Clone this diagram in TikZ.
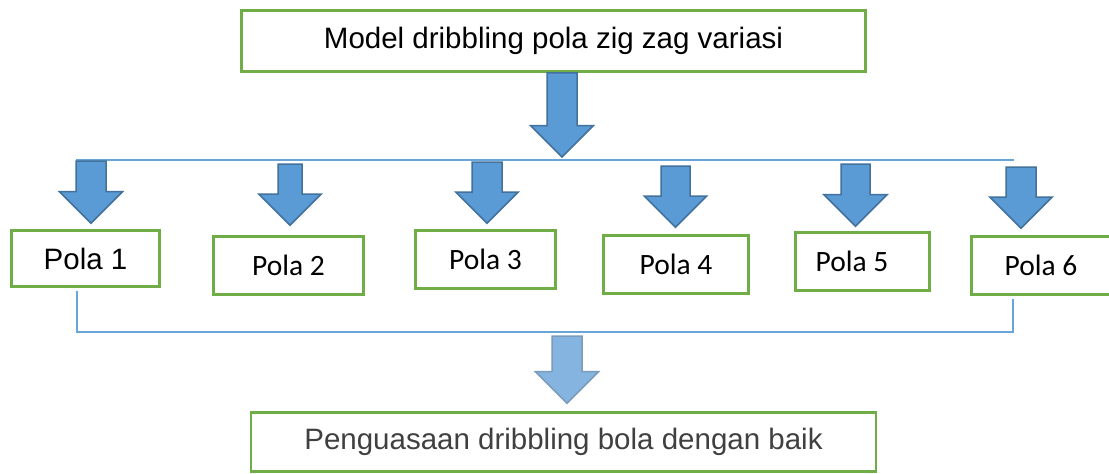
\documentclass[tikz,border=0pt]{standalone}
\usepackage{fontspec}
\setmainfont{Liberation Sans}
\newfontfamily\calibri{Carlito}
\usepackage{tikz}
\usetikzlibrary{calc}

\definecolor{boxgreen}{HTML}{70AD47}
\definecolor{arrowfill}{HTML}{5B9BD5}
\definecolor{arrowedge}{HTML}{41719C}
\definecolor{linkblue}{HTML}{6AA5DA}
\definecolor{softgray}{HTML}{404040}

\tikzset{
  box/.style={draw=boxgreen, line width=2.6pt, fill=white, inner sep=0pt},
  barrow/.style={fill=arrowfill, draw=arrowedge, line width=1.5pt, line join=miter},
  link/.style={draw=linkblue, line width=1.4pt},
  big/.style={font=\fontsize{29.5}{35}\selectfont},
  pola/.style={font=\calibri\fontsize{29.5}{35}\selectfont}
}

% block arrow: options, x, from, to, half shaft, half head
\newcommand{\blockarrow}[6][]{%
  \draw[barrow,#1] let \p1=(#3), \p2=(#4) in
    (#2pt-#5pt,\y1) -- (#2pt+#5pt,\y1) -- (#2pt+#5pt,\y2+#6pt) -- (#2pt+#6pt,\y2+#6pt)
    -- (#2pt,\y2) -- (#2pt-#6pt,\y2+#6pt) -- (#2pt-#5pt,\y2+#6pt) -- cycle;}

\begin{document}
\begin{tikzpicture}[x=1pt,y=-1pt]
\useasboundingbox[fill=white] (0,0) rectangle (1109,474);

% boxes
\node[box, big, minimum width=624pt, minimum height=61pt] (top) at (553.5,41) {\raisebox{3pt}{Model dribbling pola zig zag variasi}};
\node[box, big, minimum width=148pt, minimum height=56pt] (p1) at (85.5,258.5) {Pola 1};
\node[box, pola, minimum width=150pt, minimum height=58pt] (p2) at (288.5,265.5) {Pola 2};
\node[box, pola, minimum width=140pt, minimum height=58pt] (p3) at (485.5,259.5) {Pola 3};
\node[box, pola, minimum width=145pt, minimum height=58pt] (p4) at (676,264.5) {Pola 4};
\node[box, pola, minimum width=134pt, minimum height=58pt] (p5) at (862.5,261.5) {Pola 5\kern21pt};
\node[box, pola, minimum width=139pt, minimum height=58pt] (p6) at (1041,265.5) {Pola 6};
\node[box, big, text=softgray, minimum width=625pt, minimum height=59pt] (bot) at (563.5,442) {Penguasaan dribbling bola dengan baik};

% connecting lines
\coordinate (l1) at (76,160);
\coordinate (l2) at (1014,160);
\coordinate (m1) at (77,332);
\coordinate (m2) at (1013,332);
\draw[link] (l1) -- (l2);
\draw[link] ([yshift=-3pt]p1.south -| m1) -- (m1) -- (m2) -- ([yshift=-3pt]p6.south -| m2);

% arrows
\blockarrow{562}{top.south}{[yshift=3pt]l1}{15}{31.5}
\blockarrow{91}{[yshift=-1pt]l1}{[yshift=6pt]p1.north}{15}{31.5}
\blockarrow{290}{[yshift=-4pt]l1}{[yshift=10pt]p2.north}{12}{31}
\blockarrow{487}{[yshift=-2pt]l1}{[yshift=6pt]p3.north}{15}{31}
\blockarrow{675.5}{[yshift=-6pt]l1}{[yshift=7pt]p4.north}{14.5}{31}
\blockarrow{855.5}{[yshift=-4pt]l1}{[yshift=5pt]p5.north}{14.5}{31.5}
\blockarrow{1021}{[yshift=-7pt]l1}{[yshift=7pt]p6.north}{15}{31}
\blockarrow[fill=arrowfill!75!white, draw=arrowedge!70!white]{567}{[yshift=-4pt]m1}{[yshift=8pt]bot.north}{15}{31.5}
\end{tikzpicture}
\end{document}
